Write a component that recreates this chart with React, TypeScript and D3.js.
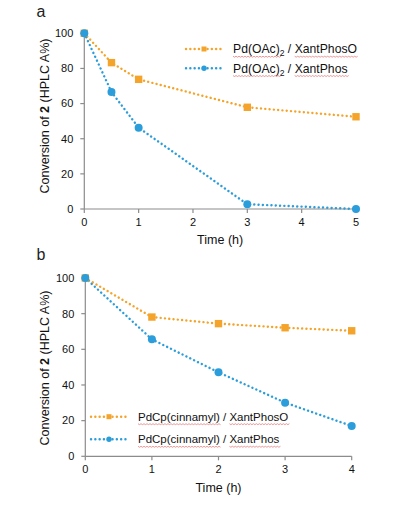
import { useEffect, useRef } from "react";
import * as d3 from "d3";

const timesA = [0, 0.5, 1, 3, 5];
const xantPhosOA = [100, 83.3, 73.8, 57.9, 52.5];
const xantPhosA = [100, 66.6, 46.3, 2.7, 0];

const timesB = [0, 1, 2, 3, 4];
const xantPhosOB = [100, 78.1, 74.4, 72.1, 70.4];
const xantPhosB = [100, 65.6, 47.1, 30.1, 17];

const xTicksA = [0, 1, 2, 3, 4, 5];
const xTicksB = [0, 1, 2, 3, 4];
const yTicks = [0, 20, 40, 60, 80, 100];

const ORANGE = "#F5A42B";
const BLUE = "#2B9DDA";
const AXIS = "#8c8c8c";
const FONT = "Liberation Sans, Arial, sans-serif";

interface PanelProps {
  letter: string;
  times: number[];
  orange: number[];
  blue: number[];
  xTicks: number[];
  x0: number;
  x1: number;
  y0: number;
  y1: number;
  legend: { x: number; y: number; gap: number; prefix: string; sub?: boolean; size: number };
  titleCenter: number;
  letterY: number;
  xTitleY: number;
}

function Panel({ letter, times, orange, blue, xTicks, x0, x1, y0, y1, legend, titleCenter, letterY, xTitleY }: PanelProps) {
  const x = d3.scaleLinear().domain([0, xTicks[xTicks.length - 1]]).range([x0, x1]);
  const y = d3.scaleLinear().domain([0, 100]).range([y0, y1]);
  const line = d3
    .line<number>()
    .x((_, i) => x(times[i]))
    .y((d) => y(d));

  const dash = { strokeDasharray: "0.1 4.2", strokeLinecap: "round" as const, strokeWidth: 2.4, fill: "none" };

  const label = (name: string) => (
    <>
      {legend.sub ? (
        <>
          <tspan className="sq">Pd(OAc)</tspan>
          <tspan fontSize={legend.size * 0.7} dy={3}>2</tspan>
          <tspan dy={-3}> / </tspan>
        </>
      ) : (
        <>
          <tspan className="sq">{legend.prefix}</tspan>
          <tspan> / </tspan>
        </>
      )}
      <tspan className="sq">{name}</tspan>
    </>
  );

  return (
    <g fontFamily={FONT}>
      <text x={41} y={letterY} fontSize={16} fill="#222" textAnchor="middle">
        {letter}
      </text>

      {/* axes */}
      <line x1={x0} x2={x0} y1={y1} y2={y0} stroke={AXIS} strokeWidth={1.2} />
      <line x1={x0} x2={x1} y1={y0} y2={y0} stroke={AXIS} strokeWidth={1.2} />
      {yTicks.map((t) => (
        <g key={t}>
          <line x1={x0 - 4} x2={x0} y1={y(t)} y2={y(t)} stroke={AXIS} strokeWidth={1.2} />
          <text x={x0 - 11} y={y(t)} dy="0.35em" textAnchor="end" fontSize={11} fill="#111">
            {t}
          </text>
        </g>
      ))}
      {xTicks.map((t) => (
        <g key={t}>
          <line x1={x(t)} x2={x(t)} y1={y0} y2={y0 + 4} stroke={AXIS} strokeWidth={1.2} />
          <text x={x(t)} y={y0 + 13} dy="0.35em" textAnchor="middle" fontSize={11} fill="#111">
            {t}
          </text>
        </g>
      ))}

      <text x={(x0 + x1) / 2} y={xTitleY} dy="0.35em" textAnchor="middle" fontSize={12.5} fill="#111">
        Time (h)
      </text>
      <text
        transform={`translate(45,${titleCenter}) rotate(-90)`}
        dy="0.35em"
        textAnchor="middle"
        fontSize={12.5}
        fill="#111"
      >
        Conversion of <tspan fontWeight="bold">2</tspan> (HPLC A%)
      </text>

      {/* series */}
      <path d={line(orange) ?? ""} stroke={ORANGE} {...dash} />
      <path d={line(blue) ?? ""} stroke={BLUE} {...dash} />
      {orange.map((v, i) => (
        <rect key={i} x={x(times[i]) - 3.7} y={y(v) - 3.7} width={7.4} height={7.4} fill={ORANGE} />
      ))}
      {blue.map((v, i) => (
        <circle key={i} cx={x(times[i])} cy={y(v)} r={4} fill={BLUE} />
      ))}

      {/* legend */}
      {[
        { color: ORANGE, name: "XantPhosO", square: true },
        { color: BLUE, name: "XantPhos", square: false },
      ].map((s, i) => {
        const ly = legend.y + i * legend.gap;
        return (
          <g key={s.name}>
            <line x1={legend.x} x2={legend.x + 36} y1={ly} y2={ly} stroke={s.color} {...dash} />
            {s.square ? (
              <rect x={legend.x + 18 - 2.5} y={ly - 2.5} width={5} height={5} fill={s.color} />
            ) : (
              <circle cx={legend.x + 18} cy={ly} r={2.7} fill={s.color} />
            )}
            <text x={legend.x + 47} y={ly} dy="0.35em" fontSize={legend.size} fill="#111">
              {label(s.name)}
            </text>
          </g>
        );
      })}
    </g>
  );
}

export default function App() {
  const svgRef = useRef<SVGSVGElement>(null);

  // spell-check style red squiggles under the legend words
  useEffect(() => {
    if (!svgRef.current) return;
    const svg = d3.select(svgRef.current);
    svg.selectAll(".squiggle").remove();
    svg.selectAll<SVGTSpanElement, unknown>("tspan.sq").each(function () {
      const start = this.getStartPositionOfChar(0);
      const len = this.getComputedTextLength();
      const by = start.y + 3;
      let d = `M${start.x},${by}`;
      for (let px = start.x, k = 0; px < start.x + len; px += 1.5, k++) {
        d += `L${px + 1.5},${by + (k % 2 === 0 ? 0.9 : 0)}`;
      }
      svg
        .append("path")
        .attr("class", "squiggle")
        .attr("d", d)
        .attr("fill", "none")
        .attr("stroke", "#e36b6b")
        .attr("stroke-width", 0.7);
    });
  }, []);

  return (
    <svg
      ref={svgRef}
      width={415}
      height={506}
      style={{ position: "absolute", left: 0, top: 0, background: "#fff" }}
    >
      <rect width={415} height={506} fill="#fff" />
      <Panel
        letter="a"
        times={timesA}
        orange={xantPhosOA}
        blue={xantPhosA}
        xTicks={xTicksA}
        x0={84.3}
        x1={356}
        y0={209}
        y1={33.3}
        legend={{ x: 186, y: 49, gap: 19.3, prefix: "Pd(OAc)", sub: true, size: 12.2 }}
        titleCenter={116}
        letterY={17}
        xTitleY={240}
      />
      <Panel
        letter="b"
        times={timesB}
        orange={xantPhosOB}
        blue={xantPhosB}
        xTicks={xTicksB}
        x0={85.3}
        x1={351.7}
        y0={456.3}
        y1={278}
        legend={{ x: 91, y: 416.7, gap: 22.6, prefix: "PdCp(cinnamyl)", size: 11.5 }}
        titleCenter={368}
        letterY={260}
        xTitleY={488}
      />
    </svg>
  );
}
